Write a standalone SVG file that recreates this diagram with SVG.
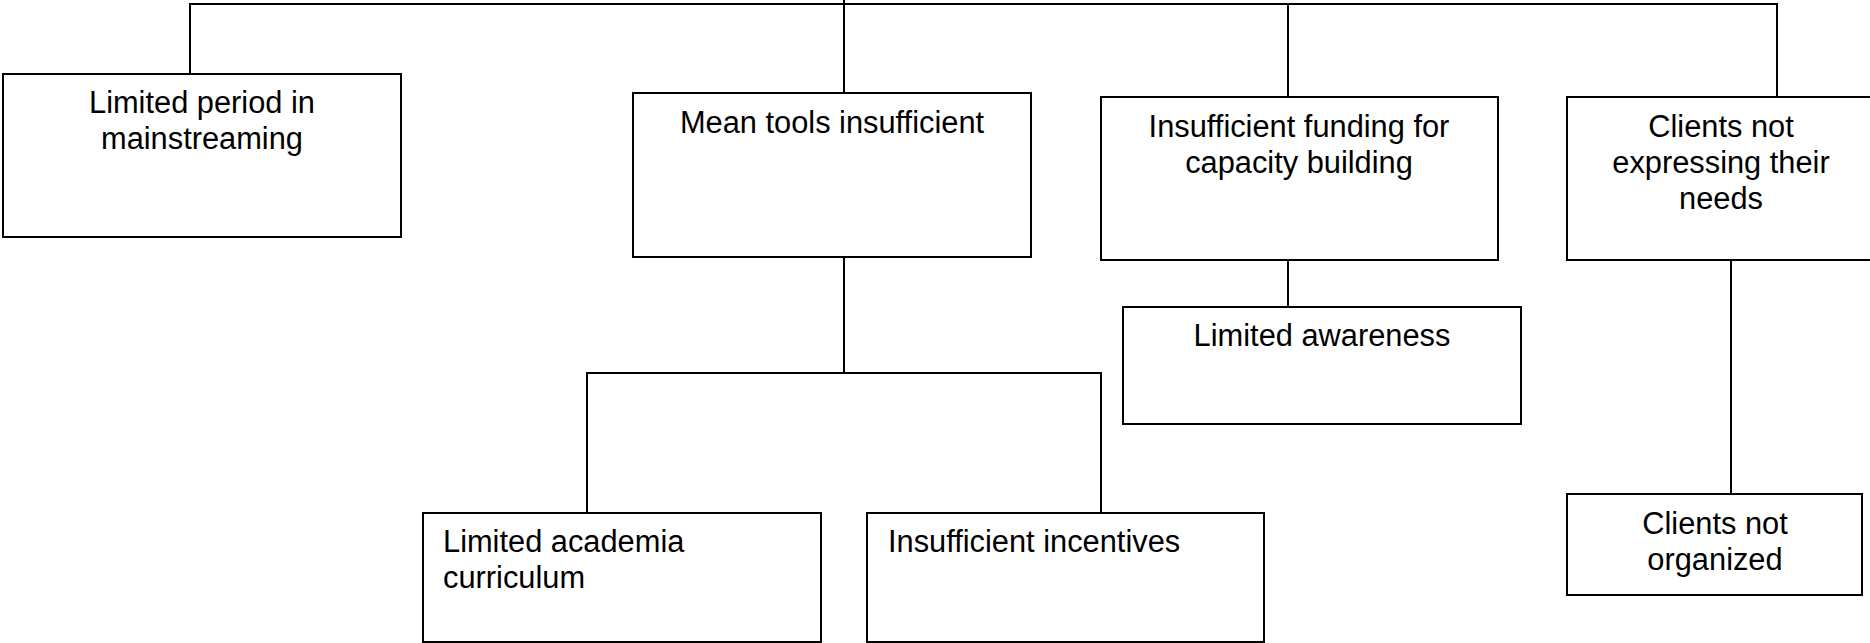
<svg xmlns="http://www.w3.org/2000/svg" width="1870" height="643" viewBox="0 0 1870 643">
  <style>
    .box { fill: #ffffff; stroke: #000000; stroke-width: 2; }
    .link { fill: none; stroke: #000000; stroke-width: 2; }
    .lbl { font-family: "Liberation Sans", Arial, sans-serif; font-size: 30.8px; fill: #000000; }
    .mid { text-anchor: middle; }
  </style>
  <rect x="0" y="0" width="1870" height="643" fill="#ffffff"/>

  <!-- tree connectors -->
  <g id="connectors">
    <path class="link" d="M844 0 V93"/>
    <path class="link" d="M190 74 V4 H1777 V97"/>
    <path class="link" d="M1288 4 V97"/>
    <path class="link" d="M844 257 V373"/>
    <path class="link" d="M587 513 V373 H1101 V513"/>
    <path class="link" d="M1288 260 V307"/>
    <path class="link" d="M1731 260 V494"/>
  </g>

  <g id="limited-period">
    <rect class="box" x="3" y="74" width="398" height="163"/>
    <text class="lbl mid" x="202" y="113">Limited period in</text>
    <text class="lbl mid" x="202" y="149">mainstreaming</text>
  </g>

  <g id="mean-tools">
    <rect class="box" x="633" y="93" width="398" height="164"/>
    <text class="lbl mid" x="832" y="133">Mean tools insufficient</text>
  </g>

  <g id="funding">
    <rect class="box" x="1101" y="97" width="397" height="163"/>
    <text class="lbl mid" x="1299" y="137">Insufficient funding for</text>
    <text class="lbl mid" x="1299" y="173">capacity building</text>
  </g>

  <g id="clients-needs">
    <rect class="box" x="1567" y="97" width="320" height="163"/>
    <text class="lbl mid" x="1721" y="137">Clients not</text>
    <text class="lbl mid" x="1721" y="173">expressing their</text>
    <text class="lbl mid" x="1721" y="209">needs</text>
  </g>

  <g id="awareness">
    <rect class="box" x="1123" y="307" width="398" height="117"/>
    <text class="lbl mid" x="1322" y="346">Limited awareness</text>
  </g>

  <g id="academia">
    <rect class="box" x="423" y="513" width="398" height="129"/>
    <text class="lbl" x="443" y="552">Limited academia</text>
    <text class="lbl" x="443" y="588">curriculum</text>
  </g>

  <g id="incentives">
    <rect class="box" x="867" y="513" width="397" height="129"/>
    <text class="lbl" x="888" y="552">Insufficient incentives</text>
  </g>

  <g id="clients-organized">
    <rect class="box" x="1567" y="494" width="295" height="101"/>
    <text class="lbl mid" x="1715" y="534">Clients not</text>
    <text class="lbl mid" x="1715" y="570">organized</text>
  </g>
</svg>
